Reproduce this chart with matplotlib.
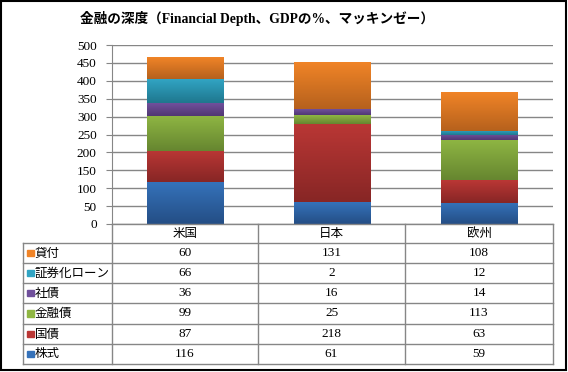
import numpy as np
import matplotlib
matplotlib.use("Agg")
import matplotlib.pyplot as plt
from matplotlib.colors import LinearSegmentedColormap
from matplotlib.patches import Rectangle

# data (GDP %)
regions = ["米国", "日本", "欧州"]
series = ["株式", "国債", "金融債", "社債", "証券化ローン", "貸付"]
kabu = [116, 61, 59]
kokusai = [87, 218, 63]
kinyusai = [99, 25, 113]
shasai = [36, 16, 14]
shokenka = [66, 2, 12]
kashitsuke = [60, 131, 108]
values = [kabu, kokusai, kinyusai, shasai, shokenka, kashitsuke]
yticks = list(range(0, 501, 50))

# (top, bottom) colours of the gradients
grads = [("#3572BA", "#244E85"), ("#BA3735", "#872625"), ("#8FB643", "#668630"),
         ("#70509C", "#513873"), ("#31A4C3", "#1F778E"), ("#F08427", "#B6611D")]

W, H = 568, 372
fig = plt.figure(figsize=(W / 100, H / 100), dpi=100)

serif = ["Liberation Serif", "Noto Sans CJK JP"]
jp = ["Noto Sans CJK JP", "DejaVu Sans"]

L, R, T, B = 112, 553, 45, 224
ax = fig.add_axes([L / W, 1 - B / H, (R - L) / W, (B - T) / H])
x = np.arange(len(regions))
bottom = np.zeros(len(regions))
for vals, (ctop, cbot) in zip(values, grads):
    bars = ax.bar(x, vals, 0.52, bottom=bottom, color=ctop, zorder=3)
    cmap = LinearSegmentedColormap.from_list("g", [cbot, ctop])
    for b in bars:
        bx, by, bw, bh = b.get_x(), b.get_y(), b.get_width(), b.get_height()
        grad = np.linspace(1, 0, 64).reshape(-1, 1)
        ax.imshow(grad, cmap=cmap, extent=[bx, bx + bw, by, by + bh],
                  aspect="auto", zorder=4, interpolation="bilinear")
    bottom += np.array(vals)

ax.set_xlim(-0.5, len(regions) - 0.5)
ax.set_ylim(0, 500)
ax.set_yticks(yticks)
ax.set_yticklabels([str(t) for t in yticks], family=serif, fontsize=9.5)
ax.set_xticks([])
ax.yaxis.grid(True, color="#868686", lw=1, zorder=0)
ax.tick_params(axis="y", length=4, color="#868686", pad=7)
for s in ["top", "right", "bottom"]:
    ax.spines[s].set_visible(False)
ax.spines["left"].set_color("#868686")

# data table drawn in pixel coordinates
tab = fig.add_axes([0, 0, 1, 1])
tab.set_xlim(0, W)
tab.set_ylim(H, 0)
tab.axis("off")
gc = "#868686"
cols = [23, 112, 258, 405, 553]
rows = [224, 243, 263, 283, 303, 324, 344, 364]
for yy in rows[1:]:
    tab.plot([cols[0], cols[-1]], [yy, yy], color=gc, lw=1)
tab.plot([cols[1], cols[-1]], [rows[0], rows[0]], color=gc, lw=1)
tab.plot([cols[0], cols[0]], [rows[1], rows[-1]], color=gc, lw=1)
for xx in cols[1:]:
    tab.plot([xx, xx], [rows[0], rows[-1]], color=gc, lw=1)

for j, name in enumerate(regions):
    tab.text((cols[j + 1] + cols[j + 2]) / 2, (rows[0] + rows[1]) / 2, name,
             ha="center", va="center", fontsize=9, family=jp)

for i, (name, vals, (ctop, cbot)) in enumerate(
        reversed(list(zip(series, values, grads)))):
    yc = (rows[i + 1] + rows[i + 2]) / 2
    tab.add_patch(Rectangle((27, yc - 3.5), 6.5, 6.5, color=ctop))
    tab.text(35, yc, name, ha="left", va="center", fontsize=9, family=jp)
    for j, v in enumerate(vals):
        tab.text((cols[j + 1] + cols[j + 2]) / 2, yc, str(v),
                 ha="center", va="center", fontsize=9.5, family=serif)

tab.text(257, 18, "金融の深度（Financial Depth、GDPの%、マッキンゼー）",
         ha="center", va="center", fontsize=9.8, fontweight="bold", family=serif)

tab.add_patch(Rectangle((1, 1), W - 3.5, H - 3.5, fill=False, ec="black", lw=1.5))

fig.savefig("out.png", dpi=100)
